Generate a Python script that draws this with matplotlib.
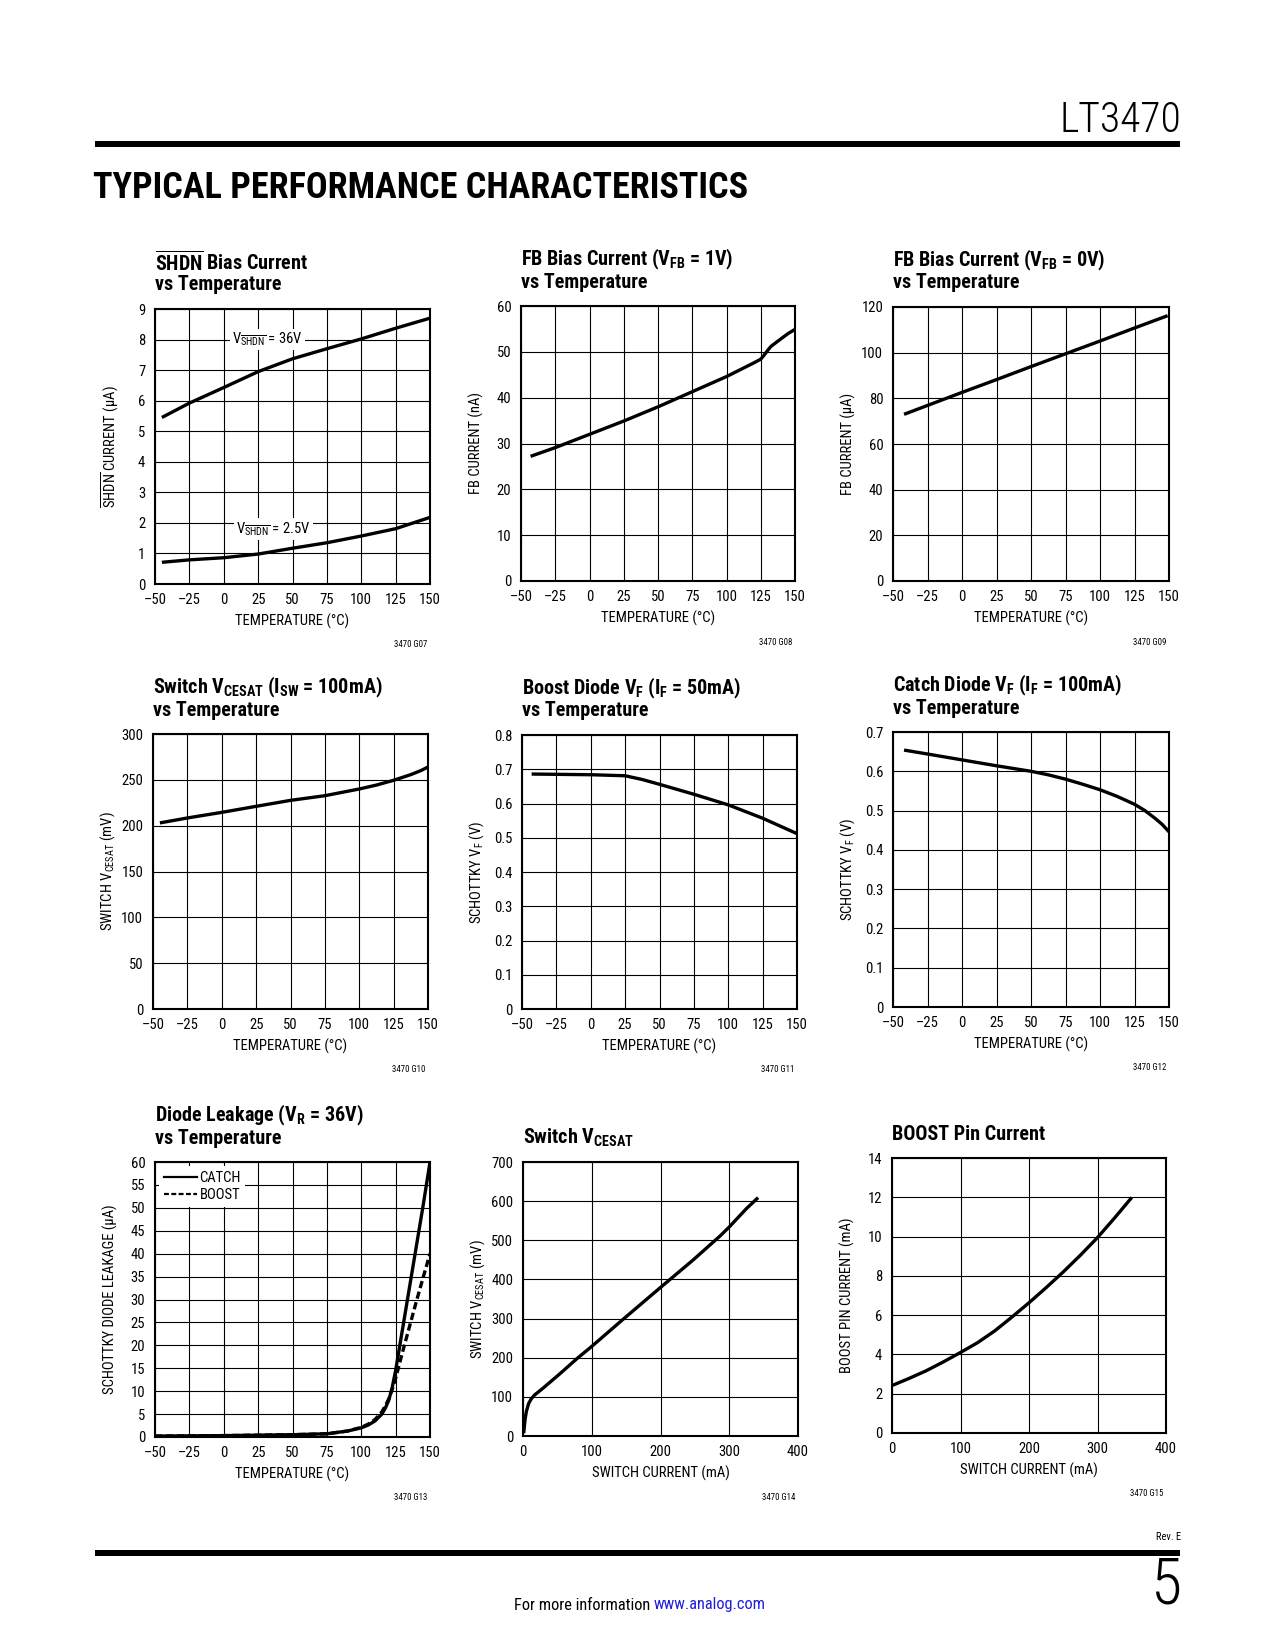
import matplotlib
matplotlib.use('Agg')
import matplotlib.pyplot as plt
from matplotlib import font_manager
from matplotlib.ticker import MultipleLocator, FuncFormatter

W, H = 1275, 1650

# pick a narrow font if one is installed
names = {f.name for f in font_manager.fontManager.ttflist}
fnames = ' '.join(f.fname for f in font_manager.fontManager.ttflist)
STRETCH = 'normal'
COND = 'Liberation Sans'
for cand in ['Liberation Sans Narrow', 'Roboto Condensed', 'Noto Sans Condensed',
             'Open Sans Condensed', 'Arial Narrow']:
    if cand in names:
        COND = cand
        break
else:
    if 'DejaVuSansCondensed' in fnames:
        COND = 'DejaVu Sans'
        STRETCH = 'condensed'

MATH = COND + (':condensed' if STRETCH == 'condensed' else '')

plt.rcParams.update({
    'font.family': [COND, 'DejaVu Sans'],
    'font.stretch': STRETCH,
    'mathtext.fontset': 'custom',
    'mathtext.rm': MATH,
    'mathtext.it': MATH + ':italic',
    'mathtext.bf': MATH + ':bold',
    'mathtext.default': 'regular',
})

# ---- data ----
# SHDN bias current
shdn_t = [-45, -25, 0, 25, 50, 75, 100, 125, 150]
shdn_36v = [5.45, 5.92, 6.43, 6.95, 7.37, 7.70, 8.02, 8.37, 8.70]
shdn_2v5 = [0.71, 0.79, 0.86, 0.98, 1.17, 1.35, 1.57, 1.81, 2.18]

# FB bias current, VFB = 1V (nA)
fb1_t = [-43, -25, 0, 25, 50, 75, 100, 120, 125, 127.5, 130, 132.5, 140, 145, 150]
fb1_i = [27.2, 29.1, 32.0, 34.9, 38.0, 41.3, 44.6, 47.6, 48.4, 49.3, 50.3, 51.2, 52.9, 54.0, 54.9]

# FB bias current, VFB = 0V (uA)
fb0_t = [-42, 0, 25, 50, 75, 100, 125, 149]
fb0_i = [73.0, 82.6, 88.2, 93.9, 99.5, 105.1, 110.8, 116.2]

# switch VCESAT vs temperature (mV)
vce_t = [-45, -25, 0, 25, 50, 75, 100, 112.5, 125, 137.5, 145, 150]
vce_mv = [203, 208.4, 214.5, 221.1, 227.6, 232.7, 240.0, 244.3, 249.5, 255.7, 260.2, 264.0]

# boost diode VF (V)
bvf_t = [-43, 0, 25, 37.5, 50, 75, 100, 125, 150]
bvf_v = [0.686, 0.684, 0.681, 0.670, 0.656, 0.627, 0.596, 0.557, 0.512]

# catch diode VF (V)
cvf_t = [-42, -25, 0, 25, 50, 62.5, 75, 87.5, 100, 112.5, 125, 132.5, 140, 145, 150]
cvf_v = [0.654, 0.644, 0.629, 0.614, 0.600, 0.591, 0.580, 0.567, 0.553, 0.536, 0.516,
         0.500, 0.480, 0.465, 0.446]

# diode leakage (uA)
leak_t = [-50, -25, 0, 25, 50, 75, 90, 100, 105, 110, 115, 117.5, 120, 122.5, 125,
          130, 135, 140, 145, 150]
leak_catch = [0.2, 0.25, 0.3, 0.4, 0.5, 0.7, 1.3, 2.0, 2.6, 3.5, 5.0, 6.3, 8.0, 10.8, 14.5,
              23.5, 32.5, 41.5, 50.5, 60.0]
leak_boost = [0.2, 0.25, 0.3, 0.4, 0.5, 0.7, 1.3, 2.1, 2.8, 3.8, 5.5, 6.8, 8.3, 10.4, 12.8,
              18.5, 24.0, 29.5, 34.8, 40.0]

# switch VCESAT vs switch current
sw_ma = [1, 2.9, 4.8, 8.2, 12, 17, 29, 53, 80, 99.4, 145.5, 199, 247, 286, 300, 325, 342]
sw_mv = [7, 41, 62, 83, 95, 105, 122, 158, 200, 228, 298, 378, 449, 510, 534, 581, 609]

# boost pin current
bp_ma = [1, 25, 50, 75, 100, 125, 150, 175, 200, 225, 250, 275, 300, 325, 350]
bp_i = [2.43, 2.78, 3.17, 3.62, 4.1, 4.6, 5.2, 5.9, 6.63, 7.4, 8.2, 9.05, 9.95, 10.95, 11.99]

def px(x, y):
    return x / W, 1 - y / H

def fmt_plain(v, p):
    return f'{v:g}'.replace('-', '\u2013')

def fmt_1dp(v, p):
    return '0' if abs(v) < 1e-9 else f'{v:.1f}'

TICK = 10.5
TITLE = 14.5

def make_axes(fig, box, xr, yr, title, ylabel, xlabel, tag, yfmt=fmt_plain):
    l, t, r, b = box
    ax = fig.add_axes([l / W, 1 - b / H, (r - l) / W, (b - t) / H])
    ax.set_xlim(xr[0], xr[1])
    ax.set_ylim(yr[0], yr[1])
    ax.xaxis.set_major_locator(MultipleLocator(xr[2]))
    ax.yaxis.set_major_locator(MultipleLocator(yr[2]))
    ax.xaxis.set_major_formatter(FuncFormatter(fmt_plain))
    ax.yaxis.set_major_formatter(FuncFormatter(yfmt))
    ax.grid(True, color='black', linewidth=0.8)
    ax.set_axisbelow(True)
    for s in ax.spines.values():
        s.set_linewidth(1.5)
    ax.tick_params(length=0, labelsize=TICK)
    ax.tick_params(axis='x', pad=6.5)
    ax.tick_params(axis='y', pad=7)
    # title lines, left aligned with the plot box
    if len(title) == 2:
        fig.text(*px(l, t - 47), title[0], fontsize=TITLE, fontweight='bold', va='center')
        fig.text(*px(l, t - 24), title[1], fontsize=TITLE, fontweight='bold', va='center')
    else:
        fig.text(*px(l, t - 24), title[0], fontsize=TITLE, fontweight='bold', va='center')
    fig.text(*px(l - 45, (t + b) / 2), ylabel, fontsize=TICK, rotation=90, ha='center', va='center')
    fig.text(*px((l + r) / 2, b + 37), xlabel, fontsize=TICK, ha='center', va='center')
    fig.text(*px(r - 3, b + 61), tag, fontsize=6.3, ha='right', va='center')
    return ax

fig = plt.figure(figsize=(W / 100, H / 100), dpi=100)
fig.patch.set_facecolor('white')

# page header
fig.add_artist(plt.Rectangle(px(95, 147), 1085 / W, 6.5 / H, transform=fig.transFigure,
                             color='black', lw=0))
fig.text(*px(1181, 121), 'LT3470', fontsize=30, fontweight='light', ha='right', va='center')
fig.text(*px(93, 188), 'TYPICAL PERFORMANCE CHARACTERISTICS', fontsize=26,
         fontweight='heavy', ha='left', va='center')

TEMP = 'TEMPERATURE (°C)'
LW = 2.4

# row 1
ax = make_axes(fig, (155, 309, 430, 584), (-50, 150, 25), (0, 9, 1),
               [r'$\mathbf{\overline{SHDN}}$ Bias Current', 'vs Temperature'],
               r'$\overline{\mathrm{SHDN}}$ CURRENT (µA)', TEMP, '3470 G07')
ax.plot(shdn_t, shdn_36v, color='black', lw=LW, solid_capstyle='butt')
ax.plot(shdn_t, shdn_2v5, color='black', lw=LW, solid_capstyle='butt')
ax.text(32, 8.0, r'V$_{\overline{\mathrm{SHDN}}}$ = 36V', fontsize=TICK, ha='center', va='center',
        bbox=dict(facecolor='white', edgecolor='none', pad=1.5))
ax.text(36, 1.8, r'V$_{\overline{\mathrm{SHDN}}}$ = 2.5V', fontsize=TICK, ha='center', va='center',
        bbox=dict(facecolor='white', edgecolor='none', pad=1.5))

ax = make_axes(fig, (521, 306, 795, 581), (-50, 150, 25), (0, 60, 10),
               [r'FB Bias Current (V$_{\mathbf{FB}}$ = 1V)', 'vs Temperature'],
               'FB CURRENT (nA)', TEMP, '3470 G08')
ax.plot(fb1_t, fb1_i, color='black', lw=LW, solid_capstyle='butt')

ax = make_axes(fig, (893, 307, 1169, 581), (-50, 150, 25), (0, 120, 20),
               [r'FB Bias Current (V$_{\mathbf{FB}}$ = 0V)', 'vs Temperature'],
               'FB CURRENT (µA)', TEMP, '3470 G09')
ax.plot(fb0_t, fb0_i, color='black', lw=LW, solid_capstyle='butt')

# row 2
ax = make_axes(fig, (153, 734, 428, 1009), (-50, 150, 25), (0, 300, 50),
               [r'Switch V$_{\mathbf{CESAT}}$ (I$_{\mathbf{SW}}$ = 100mA)', 'vs Temperature'],
               r'SWITCH V$_{\mathrm{CESAT}}$ (mV)', TEMP, '3470 G10')
ax.plot(vce_t, vce_mv, color='black', lw=LW, solid_capstyle='butt')

ax = make_axes(fig, (522, 735, 797, 1009), (-50, 150, 25), (0, 0.8, 0.1),
               [r'Boost Diode V$_{\mathbf{F}}$ (I$_{\mathbf{F}}$ = 50mA)', 'vs Temperature'],
               r'SCHOTTKY V$_{\mathrm{F}}$ (V)', TEMP, '3470 G11', yfmt=fmt_1dp)
ax.plot(bvf_t, bvf_v, color='black', lw=LW, solid_capstyle='butt')

ax = make_axes(fig, (893, 732, 1169, 1007), (-50, 150, 25), (0, 0.7, 0.1),
               [r'Catch Diode V$_{\mathbf{F}}$ (I$_{\mathbf{F}}$ = 100mA)', 'vs Temperature'],
               r'SCHOTTKY V$_{\mathrm{F}}$ (V)', TEMP, '3470 G12', yfmt=fmt_1dp)
ax.plot(cvf_t, cvf_v, color='black', lw=LW, solid_capstyle='butt')

# row 3
ax = make_axes(fig, (155, 1162, 430, 1437), (-50, 150, 25), (0, 60, 5),
               [r'Diode Leakage (V$_{\mathbf{R}}$ = 36V)', 'vs Temperature'],
               'SCHOTTKY DIODE LEAKAGE (µA)', TEMP, '3470 G13')
ax.plot(leak_t, leak_catch, color='black', lw=LW, label='CATCH')
ax.plot(leak_t, leak_boost, color='black', lw=LW, dashes=(2.2, 1.1), label='BOOST')
leg = ax.legend(loc='upper left', fontsize=TICK, frameon=True, fancybox=False,
                handlelength=2.3, handletextpad=0.15, borderpad=0.3,
                labelspacing=0.25, borderaxespad=0.3)
leg.get_frame().set_edgecolor('none')
leg.get_frame().set_alpha(1)
for h in leg.get_lines():
    h.set_linewidth(1.6)

ax = make_axes(fig, (523, 1162, 798, 1436), (0, 400, 100), (0, 700, 100),
               [r'Switch V$_{\mathbf{CESAT}}$'],
               r'SWITCH V$_{\mathrm{CESAT}}$ (mV)', 'SWITCH CURRENT (mA)', '3470 G14')
ax.plot(sw_ma, sw_mv, color='black', lw=LW, solid_capstyle='butt')

ax = make_axes(fig, (892, 1158, 1166, 1433), (0, 400, 100), (0, 14, 2),
               ['BOOST Pin Current'],
               'BOOST PIN CURRENT (mA)', 'SWITCH CURRENT (mA)', '3470 G15')
ax.plot(bp_ma, bp_i, color='black', lw=LW, solid_capstyle='butt')

# page footer
fig.text(*px(1181, 1537), 'Rev. E', fontsize=7.5, ha='right', va='center')
fig.add_artist(plt.Rectangle(px(95, 1556), 1085 / W, 6.5 / H, transform=fig.transFigure,
                             color='black', lw=0))
fig.text(*px(1182, 1585), '5', fontsize=46, fontweight='light', ha='right', va='center')
fig.text(*px(650, 1605), 'For more information', fontsize=11.8, ha='right', va='center')
fig.text(*px(654, 1605), 'www.analog.com', fontsize=11.8, ha='left', va='center', color='#1f1fd6')

fig.savefig('out.png', dpi=100)
